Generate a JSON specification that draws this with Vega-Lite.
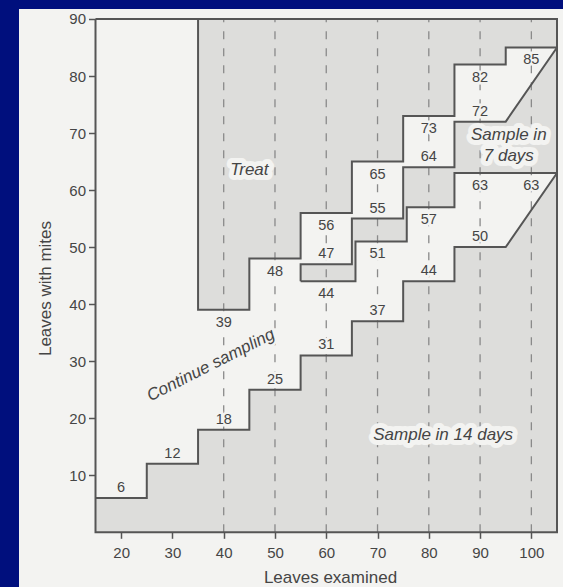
{
  "$schema": "https://vega.github.io/schema/vega-lite/v6.json",
  "width": 544,
  "height": 578,
  "autosize": {"type": "none"},
  "padding": {"left": 19, "top": 9, "right": 0, "bottom": 0},
  "background": "#000f7d",
  "config": {"view": {"fill": "#f3f3f1", "stroke": null}, "font": "Liberation Sans"},
  "datasets": {
    "areas": [
      {"region": "treat", "i": 1, "x": 35, "y": 39, "y2": 90},
      {"region": "treat", "i": 2, "x": 45, "y": 39, "y2": 90},
      {"region": "treat", "i": 3, "x": 45, "y": 48, "y2": 90},
      {"region": "treat", "i": 4, "x": 55, "y": 48, "y2": 90},
      {"region": "treat", "i": 5, "x": 55, "y": 56, "y2": 90},
      {"region": "treat", "i": 6, "x": 65, "y": 56, "y2": 90},
      {"region": "treat", "i": 7, "x": 65, "y": 65, "y2": 90},
      {"region": "treat", "i": 8, "x": 75, "y": 65, "y2": 90},
      {"region": "treat", "i": 9, "x": 75, "y": 73, "y2": 90},
      {"region": "treat", "i": 10, "x": 85, "y": 73, "y2": 90},
      {"region": "treat", "i": 11, "x": 85, "y": 82, "y2": 90},
      {"region": "treat", "i": 12, "x": 95, "y": 82, "y2": 90},
      {"region": "treat", "i": 13, "x": 95, "y": 85, "y2": 90},
      {"region": "treat", "i": 14, "x": 105, "y": 85, "y2": 90},
      {"region": "seven", "i": 1, "x": 55, "y": 44, "y2": 47},
      {"region": "seven", "i": 2, "x": 65, "y": 44, "y2": 47},
      {"region": "seven", "i": 3, "x": 65, "y": 44, "y2": 55},
      {"region": "seven", "i": 4, "x": 65.7, "y": 44, "y2": 55},
      {"region": "seven", "i": 5, "x": 65.7, "y": 51, "y2": 55},
      {"region": "seven", "i": 6, "x": 75, "y": 51, "y2": 55},
      {"region": "seven", "i": 7, "x": 75, "y": 51, "y2": 64},
      {"region": "seven", "i": 8, "x": 75.7, "y": 51, "y2": 64},
      {"region": "seven", "i": 9, "x": 75.7, "y": 57, "y2": 64},
      {"region": "seven", "i": 10, "x": 85, "y": 57, "y2": 64},
      {"region": "seven", "i": 11, "x": 85, "y": 63, "y2": 72},
      {"region": "seven", "i": 12, "x": 95, "y": 63, "y2": 72},
      {"region": "seven", "i": 13, "x": 105, "y": 63, "y2": 85},
      {"region": "fourteen", "i": 1, "x": 15, "y": 0, "y2": 6},
      {"region": "fourteen", "i": 2, "x": 25, "y": 0, "y2": 6},
      {"region": "fourteen", "i": 3, "x": 25, "y": 0, "y2": 12},
      {"region": "fourteen", "i": 4, "x": 35, "y": 0, "y2": 12},
      {"region": "fourteen", "i": 5, "x": 35, "y": 0, "y2": 18},
      {"region": "fourteen", "i": 6, "x": 45, "y": 0, "y2": 18},
      {"region": "fourteen", "i": 7, "x": 45, "y": 0, "y2": 25},
      {"region": "fourteen", "i": 8, "x": 55, "y": 0, "y2": 25},
      {"region": "fourteen", "i": 9, "x": 55, "y": 0, "y2": 31},
      {"region": "fourteen", "i": 10, "x": 65, "y": 0, "y2": 31},
      {"region": "fourteen", "i": 11, "x": 65, "y": 0, "y2": 37},
      {"region": "fourteen", "i": 12, "x": 75, "y": 0, "y2": 37},
      {"region": "fourteen", "i": 13, "x": 75, "y": 0, "y2": 44},
      {"region": "fourteen", "i": 14, "x": 85, "y": 0, "y2": 44},
      {"region": "fourteen", "i": 15, "x": 85, "y": 0, "y2": 50},
      {"region": "fourteen", "i": 16, "x": 95, "y": 0, "y2": 50},
      {"region": "fourteen", "i": 17, "x": 105, "y": 0, "y2": 63}
    ],
    "lines": [
      {"line": "treat", "i": 1, "x": 35, "y": 90},
      {"line": "treat", "i": 2, "x": 35, "y": 39},
      {"line": "treat", "i": 3, "x": 45, "y": 39},
      {"line": "treat", "i": 4, "x": 45, "y": 48},
      {"line": "treat", "i": 5, "x": 55, "y": 48},
      {"line": "treat", "i": 6, "x": 55, "y": 56},
      {"line": "treat", "i": 7, "x": 65, "y": 56},
      {"line": "treat", "i": 8, "x": 65, "y": 65},
      {"line": "treat", "i": 9, "x": 75, "y": 65},
      {"line": "treat", "i": 10, "x": 75, "y": 73},
      {"line": "treat", "i": 11, "x": 85, "y": 73},
      {"line": "treat", "i": 12, "x": 85, "y": 82},
      {"line": "treat", "i": 13, "x": 95, "y": 82},
      {"line": "treat", "i": 14, "x": 95, "y": 85},
      {"line": "treat", "i": 15, "x": 105, "y": 85},
      {"line": "upper7", "i": 1, "x": 55, "y": 44},
      {"line": "upper7", "i": 2, "x": 55, "y": 47},
      {"line": "upper7", "i": 3, "x": 65, "y": 47},
      {"line": "upper7", "i": 4, "x": 65, "y": 55},
      {"line": "upper7", "i": 5, "x": 75, "y": 55},
      {"line": "upper7", "i": 6, "x": 75, "y": 64},
      {"line": "upper7", "i": 7, "x": 85, "y": 64},
      {"line": "upper7", "i": 8, "x": 85, "y": 72},
      {"line": "upper7", "i": 9, "x": 95, "y": 72},
      {"line": "upper7", "i": 10, "x": 105, "y": 85},
      {"line": "lower7", "i": 1, "x": 55, "y": 44},
      {"line": "lower7", "i": 2, "x": 65.7, "y": 44},
      {"line": "lower7", "i": 3, "x": 65.7, "y": 51},
      {"line": "lower7", "i": 4, "x": 75.7, "y": 51},
      {"line": "lower7", "i": 5, "x": 75.7, "y": 57},
      {"line": "lower7", "i": 6, "x": 85, "y": 57},
      {"line": "lower7", "i": 7, "x": 85, "y": 63},
      {"line": "lower7", "i": 8, "x": 105, "y": 63},
      {"line": "lower14", "i": 1, "x": 15, "y": 6},
      {"line": "lower14", "i": 2, "x": 25, "y": 6},
      {"line": "lower14", "i": 3, "x": 25, "y": 12},
      {"line": "lower14", "i": 4, "x": 35, "y": 12},
      {"line": "lower14", "i": 5, "x": 35, "y": 18},
      {"line": "lower14", "i": 6, "x": 45, "y": 18},
      {"line": "lower14", "i": 7, "x": 45, "y": 25},
      {"line": "lower14", "i": 8, "x": 55, "y": 25},
      {"line": "lower14", "i": 9, "x": 55, "y": 31},
      {"line": "lower14", "i": 10, "x": 65, "y": 31},
      {"line": "lower14", "i": 11, "x": 65, "y": 37},
      {"line": "lower14", "i": 12, "x": 75, "y": 37},
      {"line": "lower14", "i": 13, "x": 75, "y": 44},
      {"line": "lower14", "i": 14, "x": 85, "y": 44},
      {"line": "lower14", "i": 15, "x": 85, "y": 50},
      {"line": "lower14", "i": 16, "x": 95, "y": 50},
      {"line": "lower14", "i": 17, "x": 105, "y": 63},
      {"line": "frame", "i": 1, "x": 15, "y": 90},
      {"line": "frame", "i": 2, "x": 15, "y": 0},
      {"line": "frame", "i": 3, "x": 105, "y": 0},
      {"line": "frame", "i": 4, "x": 105, "y": 90},
      {"line": "frame", "i": 5, "x": 15, "y": 90}
    ],
    "grid": [
      {"x": 40, "y": 0, "y2": 90},
      {"x": 50, "y": 0, "y2": 90},
      {"x": 60, "y": 0, "y2": 90},
      {"x": 70, "y": 0, "y2": 90},
      {"x": 80, "y": 0, "y2": 90},
      {"x": 90, "y": 0, "y2": 90},
      {"x": 100, "y": 0, "y2": 90}
    ],
    "labels": [
      {"t": "6", "x": 20, "y": 6, "pos": "above"},
      {"t": "12", "x": 30, "y": 12, "pos": "above"},
      {"t": "18", "x": 40, "y": 18, "pos": "above"},
      {"t": "25", "x": 50, "y": 25, "pos": "above"},
      {"t": "31", "x": 60, "y": 31, "pos": "above"},
      {"t": "37", "x": 70, "y": 37, "pos": "above"},
      {"t": "44", "x": 80, "y": 44, "pos": "above"},
      {"t": "50", "x": 90, "y": 50, "pos": "above"},
      {"t": "47", "x": 60, "y": 47, "pos": "above"},
      {"t": "55", "x": 70, "y": 55, "pos": "above"},
      {"t": "64", "x": 80, "y": 64, "pos": "above"},
      {"t": "72", "x": 90, "y": 72, "pos": "above"},
      {"t": "39", "x": 40, "y": 39, "pos": "below"},
      {"t": "48", "x": 50, "y": 48, "pos": "below"},
      {"t": "56", "x": 60, "y": 56, "pos": "below"},
      {"t": "65", "x": 70, "y": 65, "pos": "below"},
      {"t": "73", "x": 80, "y": 73, "pos": "below"},
      {"t": "82", "x": 90, "y": 82, "pos": "below"},
      {"t": "85", "x": 100, "y": 85, "pos": "below"},
      {"t": "44", "x": 60, "y": 44, "pos": "below"},
      {"t": "51", "x": 70, "y": 51, "pos": "below"},
      {"t": "57", "x": 80, "y": 57, "pos": "below"},
      {"t": "63", "x": 90, "y": 63, "pos": "below"},
      {"t": "63", "x": 100, "y": 63, "pos": "below"}
    ],
    "regions": [
      {"t": "Treat", "x": 45, "y": 63.5},
      {"t": "Sample in 14 days", "x": 82.8, "y": 17},
      {"t": "Sample in\n7 days", "x": 95.6, "y": 69.7}
    ],
    "rotated": [
      {"t": "Continue sampling", "x": 37.5, "y": 29.3}
    ]
  },
  "encoding": {
    "x": {
      "field": "x", "type": "quantitative",
      "scale": {"domain": [0.08, 106.17], "nice": false, "zero": false},
      "axis": {
        "values": [20, 30, 40, 50, 60, 70, 80, 90, 100],
        "offset": -54.7, "domain": false, "grid": false,
        "tickColor": "#555555", "tickWidth": 1.5, "tickSize": 6,
        "labelFont": "Liberation Sans", "labelFontSize": 15, "labelColor": "#454545",
        "labelPadding": 7, "labelFlush": false,
        "title": "Leaves examined", "titleFont": "Liberation Sans", "titleFontSize": 17,
        "titleFontWeight": "normal", "titleColor": "#454545", "titleX": 311, "titlePadding": 9
      }
    },
    "y": {
      "field": "y", "type": "quantitative", "stack": null,
      "scale": {"domain": [-9.59, 91.75], "nice": false, "zero": false},
      "axis": {
        "values": [10, 20, 30, 40, 50, 60, 70, 80, 90],
        "offset": -76.5, "domain": false, "grid": false,
        "tickColor": "#555555", "tickWidth": 1.5, "tickSize": 7,
        "labelFont": "Liberation Sans", "labelFontSize": 15, "labelColor": "#454545",
        "labelPadding": 3, "labelFlush": false,
        "title": "Leaves with mites", "titleFont": "Liberation Sans", "titleFontSize": 17,
        "titleFontWeight": "normal", "titleColor": "#454545", "titleY": 279, "titlePadding": 14
      }
    }
  },
  "layer": [
    {
      "data": {"name": "areas"},
      "transform": [{"filter": "datum.region === 'treat'"}],
      "mark": {"type": "area", "orient": "vertical", "interpolate": "linear", "color": "#dddddb", "opacity": 1},
      "encoding": {"y2": {"field": "y2"}}
    },
    {
      "data": {"name": "areas"},
      "transform": [{"filter": "datum.region === 'seven'"}],
      "mark": {"type": "area", "orient": "vertical", "interpolate": "linear", "color": "#dddddb", "opacity": 1},
      "encoding": {"y2": {"field": "y2"}}
    },
    {
      "data": {"name": "areas"},
      "transform": [{"filter": "datum.region === 'fourteen'"}],
      "mark": {"type": "area", "orient": "vertical", "interpolate": "linear", "color": "#dddddb", "opacity": 1},
      "encoding": {"y2": {"field": "y2"}}
    },
    {
      "data": {"name": "grid"},
      "mark": {"type": "rule", "stroke": "#8a8a8a", "strokeWidth": 1.3, "strokeDash": [8, 9]},
      "encoding": {"y2": {"field": "y2"}}
    },
    {
      "data": {"name": "lines"},
      "mark": {"type": "line", "stroke": "#555555", "strokeWidth": 2, "interpolate": "linear", "strokeJoin": "miter"},
      "encoding": {
        "detail": {"field": "line"},
        "order": {"field": "i", "type": "quantitative"}
      }
    },
    {
      "data": {"name": "labels"},
      "transform": [{"filter": "datum.pos === 'above'"}],
      "mark": {"type": "text", "fontSize": 14.5, "baseline": "alphabetic", "dy": -6, "fill": "#f3f3f1", "stroke": "#f3f3f1", "strokeWidth": 5},
      "encoding": {"text": {"field": "t"}}
    },
    {
      "data": {"name": "labels"},
      "transform": [{"filter": "datum.pos === 'below'"}],
      "mark": {"type": "text", "fontSize": 14.5, "baseline": "alphabetic", "dy": 17, "fill": "#f3f3f1", "stroke": "#f3f3f1", "strokeWidth": 5},
      "encoding": {"text": {"field": "t"}}
    },
    {
      "data": {"name": "labels"},
      "transform": [{"filter": "datum.pos === 'above'"}],
      "mark": {"type": "text", "fontSize": 14.5, "baseline": "alphabetic", "dy": -6, "fill": "#454545"},
      "encoding": {"text": {"field": "t"}}
    },
    {
      "data": {"name": "labels"},
      "transform": [{"filter": "datum.pos === 'below'"}],
      "mark": {"type": "text", "fontSize": 14.5, "baseline": "alphabetic", "dy": 17, "fill": "#454545"},
      "encoding": {"text": {"field": "t"}}
    },
    {
      "data": {"name": "regions"},
      "mark": {"type": "text", "fontSize": 17, "fontStyle": "italic", "baseline": "middle", "lineBreak": "\n", "lineHeight": 21.5, "fill": "#f3f3f1", "stroke": "#f3f3f1", "strokeWidth": 10, "strokeJoin": "round"},
      "encoding": {"text": {"field": "t"}}
    },
    {
      "data": {"name": "regions"},
      "mark": {"type": "text", "fontSize": 17, "fontStyle": "italic", "baseline": "middle", "lineBreak": "\n", "lineHeight": 21.5, "fill": "#454545"},
      "encoding": {"text": {"field": "t"}}
    },
    {
      "data": {"name": "rotated"},
      "mark": {"type": "text", "fontSize": 17, "fontStyle": "italic", "baseline": "middle", "angle": -27, "fill": "#f3f3f1", "stroke": "#f3f3f1", "strokeWidth": 5},
      "encoding": {"text": {"field": "t"}}
    },
    {
      "data": {"name": "rotated"},
      "mark": {"type": "text", "fontSize": 17, "fontStyle": "italic", "baseline": "middle", "angle": -27, "fill": "#454545"},
      "encoding": {"text": {"field": "t"}}
    }
  ]
}
